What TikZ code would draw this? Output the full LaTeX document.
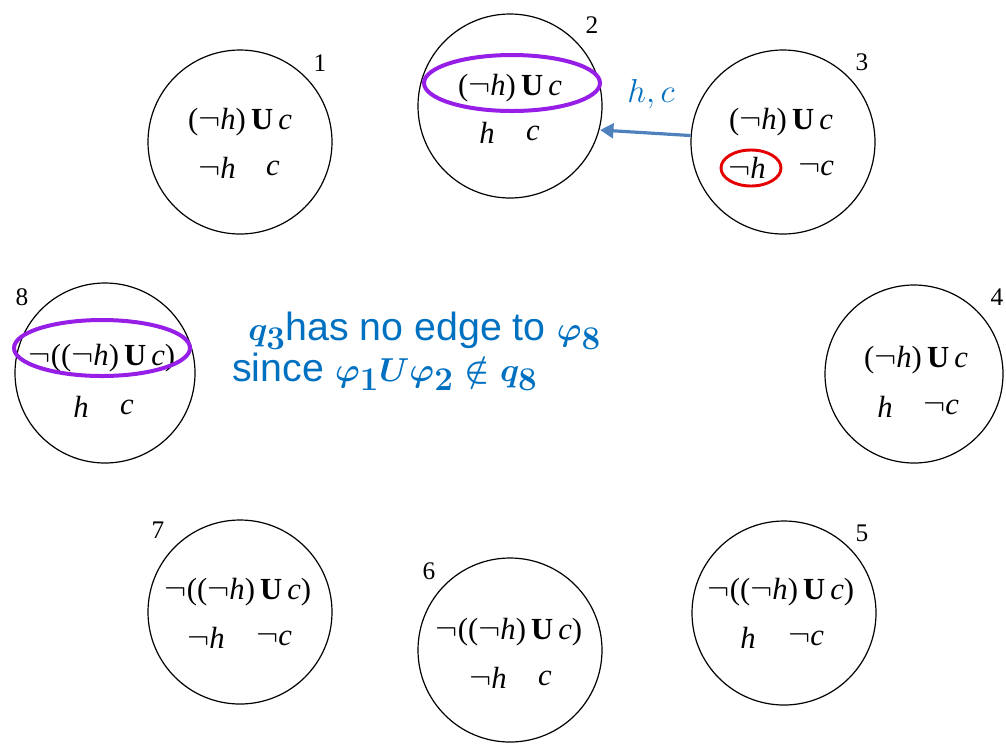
\documentclass[tikz,border=0pt]{standalone}
\usepackage{fontspec}
\setmainfont{Liberation Serif}
\newfontfamily\bluefont{Liberation Sans}
\usetikzlibrary{shapes.geometric,arrows.meta}
\definecolor{pptblue}{RGB}{0,112,192}
\definecolor{arrowblue}{RGB}{79,129,189}
\definecolor{vio}{RGB}{150,30,230}
\definecolor{redring}{RGB}{228,0,0}
\newcommand{\negh}{$\neg$\textit{h}}
\newcommand{\negc}{$\neg$\textit{c}}
\newcommand{\untilf}{(\negh)\,\textbf{U}\,\textit{c}}
\newcommand{\nuntilf}{$\neg$(\untilf)}
\newcommand{\largemath}[1]{{\fontsize{33}{36}\selectfont\boldmath$#1$}}
\begin{document}
\begin{tikzpicture}[x=0.75pt,y=-0.75pt,
  state/.style={circle, draw, line width=0.9pt, inner sep=0pt, minimum size=138pt},
  formula/.style={inner sep=0pt, font=\fontsize{23}{26}\selectfont},
  num/.style={inner sep=0pt, font=\fontsize{19}{22}\selectfont},
  ring/.style={ellipse, draw=vio, line width=3pt, inner sep=0pt, minimum width=132pt, minimum height=42pt},
  redmark/.style={ellipse, draw=redring, line width=2.2pt, inner sep=0pt, minimum width=45pt, minimum height=27pt},
  bluetext/.style={inner sep=0pt, anchor=base west, text=pptblue, font=\bluefont\fontsize{29.5}{32}\selectfont}]
\useasboundingbox (0,0) rectangle (1006,744);
% states
\node[state] (c1) at (240,142) {};
\node[state] (c2) at (510,106) {};
\node[state] (c3) at (783,142) {};
\node[state, minimum size=133.5pt] (c4) at (914,374) {};
\node[state] (c5) at (784,613) {};
\node[state] (c6) at (510,650) {};
\node[state] (c7) at (240,612) {};
\node[state, minimum size=135pt] (c8) at (105,373) {};
% numbers
\node[num] (n1) at (320,63) {1};
\node[num] (n2) at (592,25) {2};
\node[num] (n3) at (862,62) {3};
\node[num] (n4) at (997,297) {4};
\node[num] (n5) at (862,533) {5};
\node[num] (n6) at (429,571) {6};
\node[num] (n7) at (158,530) {7};
\node[num] (n8) at (22,297) {8};
% formulas
\node[formula] (f1a) at (240,122) {\untilf};
\node[formula] (f1b) at (217,168) {\negh};
\node[formula] (f1c) at (273,168) {\textit{c}};
\node[formula] (f2a) at (510,88) {\untilf};
\node[formula] (f2b) at (487,133) {\textit{h}};
\node[formula] (f2c) at (533,133) {\textit{c}};
\node[formula] (f3a) at (781,122) {\untilf};
\node[formula] (f3b) at (747,168) {\negh};
\node[formula] (f3c) at (816,168) {\negc};
\node[formula] (f4a) at (916,360) {\untilf};
\node[formula] (f4b) at (885,407) {\textit{h}};
\node[formula] (f4c) at (941,407) {\negc};
\node[formula] (f5a) at (781,592) {\nuntilf};
\node[formula] (f5b) at (748,638) {\textit{h}};
\node[formula] (f5c) at (806,638) {\negc};
\node[formula] (f6a) at (509,632) {\nuntilf};
\node[formula] (f6b) at (488,678) {\negh};
\node[formula] (f6c) at (545,678) {\textit{c}};
\node[formula] (f7a) at (238,592) {\nuntilf};
\node[formula] (f7b) at (206,638) {\negh};
\node[formula] (f7c) at (274,638) {\negc};
\node[formula] (f8a) at (102,358) {\nuntilf};
\node[formula] (f8b) at (81,407) {\textit{h}};
\node[formula] (f8c) at (127,407) {\textit{c}};
% highlights
\node[ring] (r2) at (512,83) {};
\node[ring] (r8) at (102,348) {};
\node[redmark] (r3) at (751,168) {};
% arrow
\draw[arrowblue, line width=2.4pt, -{Triangle[length=10pt,width=11pt]}, shorten >=0.5pt] (c3.176) -- (c2.-15);
\node[inner sep=0pt, text=pptblue, font=\fontsize{28}{30}\selectfont] (lbl) at (651,94) {$h, c$};
% comment text
\node[bluetext] (t1) at (248,340) {\largemath{q_3}has no edge to \largemath{\varphi_8}};
\node[bluetext] (t2) at (232,381) {since \largemath{\varphi_1 U \varphi_2 \notin q_8}};
\end{tikzpicture}
\end{document}
